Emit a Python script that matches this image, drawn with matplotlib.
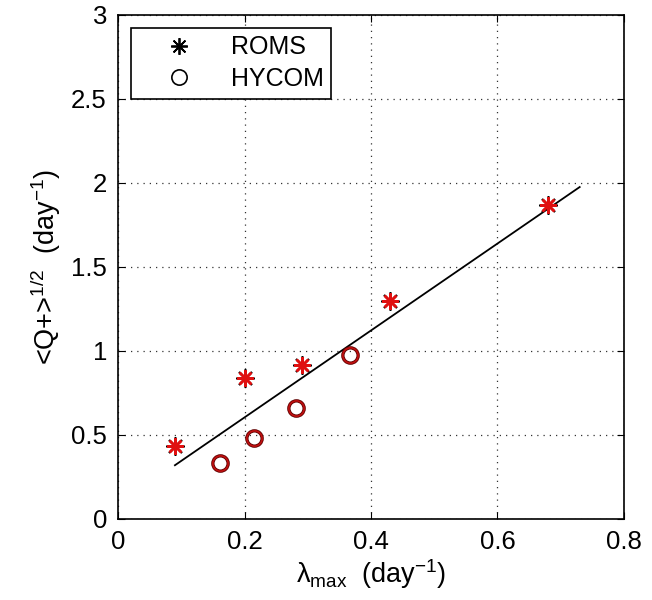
import matplotlib
matplotlib.use("Agg")
import matplotlib.pyplot as plt
from matplotlib.lines import Line2D

plt.rcParams['font.family'] = ['Liberation Sans', 'DejaVu Sans']
plt.rcParams['mathtext.fontset'] = 'custom'
plt.rcParams['mathtext.rm'] = 'Liberation Sans'
plt.rcParams['mathtext.it'] = 'Liberation Sans:italic'
plt.rcParams['mathtext.default'] = 'rm'

# Data
roms_x = [0.090, 0.201, 0.291, 0.430, 0.680]
roms_y = [0.435, 0.839, 0.917, 1.300, 1.870]
hycom_x = [0.161, 0.215, 0.281, 0.367]
hycom_y = [0.333, 0.482, 0.660, 0.976]
fit_x = [0.090, 0.730]
fit_y = [0.320, 1.976]
xticks = [0, 0.2, 0.4, 0.6, 0.8]
yticks = [0, 0.5, 1, 1.5, 2, 2.5, 3]
xtick_labels = ['0', '0.2', '0.4', '0.6', '0.8']
ytick_labels = ['0', '0.5', '1', '1.5', '2', '2.5', '3']

fig = plt.figure(figsize=(6.52, 6.0), dpi=100)
ax = fig.add_axes([0.181, 0.135, 0.776, 0.84])

ast = (8, 2, 0)
ax.plot(fit_x, fit_y, color='black', lw=1.3, zorder=2)
ax.plot(roms_x, roms_y, ls='none', marker=ast, ms=13, mec='black', mew=1.4, zorder=3)
ax.plot(roms_x, roms_y, ls='none', marker=ast, ms=12, mec='#e01010', mew=1.8, zorder=4)
ax.plot(hycom_x, hycom_y, ls='none', marker='o', ms=11, mfc='none', mec='#600000', mew=2.4, zorder=3)
ax.plot(hycom_x, hycom_y, ls='none', marker='o', ms=11, mfc='none', mec='#c01010', mew=1.2, zorder=4)

ax.set_xlim(0, 0.8)
ax.set_ylim(0, 3)
ax.set_xticks(xticks)
ax.set_xticklabels(xtick_labels)
ax.set_yticks(yticks)
ax.set_yticklabels(ytick_labels)
ax.tick_params(direction='in', top=True, right=True, labelsize=18.5, length=5, width=0.8, pad=8)
ax.grid(True, ls=(0, (1, 4)), color='#333333', lw=0.9)
for s in ax.spines.values():
    s.set_linewidth(1.2)

ax.set_xlabel(r'$\lambda_{\rm max}$  (day$^{-1}$)', fontsize=19.5, labelpad=2)
ax.set_ylabel(r'<Q+>$^{1/2}$  (day$^{-1}$)', fontsize=19.5, labelpad=6)

handles = [Line2D([], [], ls='none', marker=ast, ms=12, mec='black', mew=1.3),
           Line2D([], [], ls='none', marker='o', ms=11, mfc='none', mec='black', mew=1.2)]
leg = ax.legend(handles, ['ROMS', 'HYCOM'], loc='upper left', fontsize=18,
                frameon=True, fancybox=False, edgecolor='black', framealpha=1,
                borderaxespad=0.52, handlelength=3.2, handletextpad=0.5,
                borderpad=0.3, labelspacing=0.3)
leg.get_frame().set_linewidth(1.2)

fig.savefig('out.png', dpi=100)
